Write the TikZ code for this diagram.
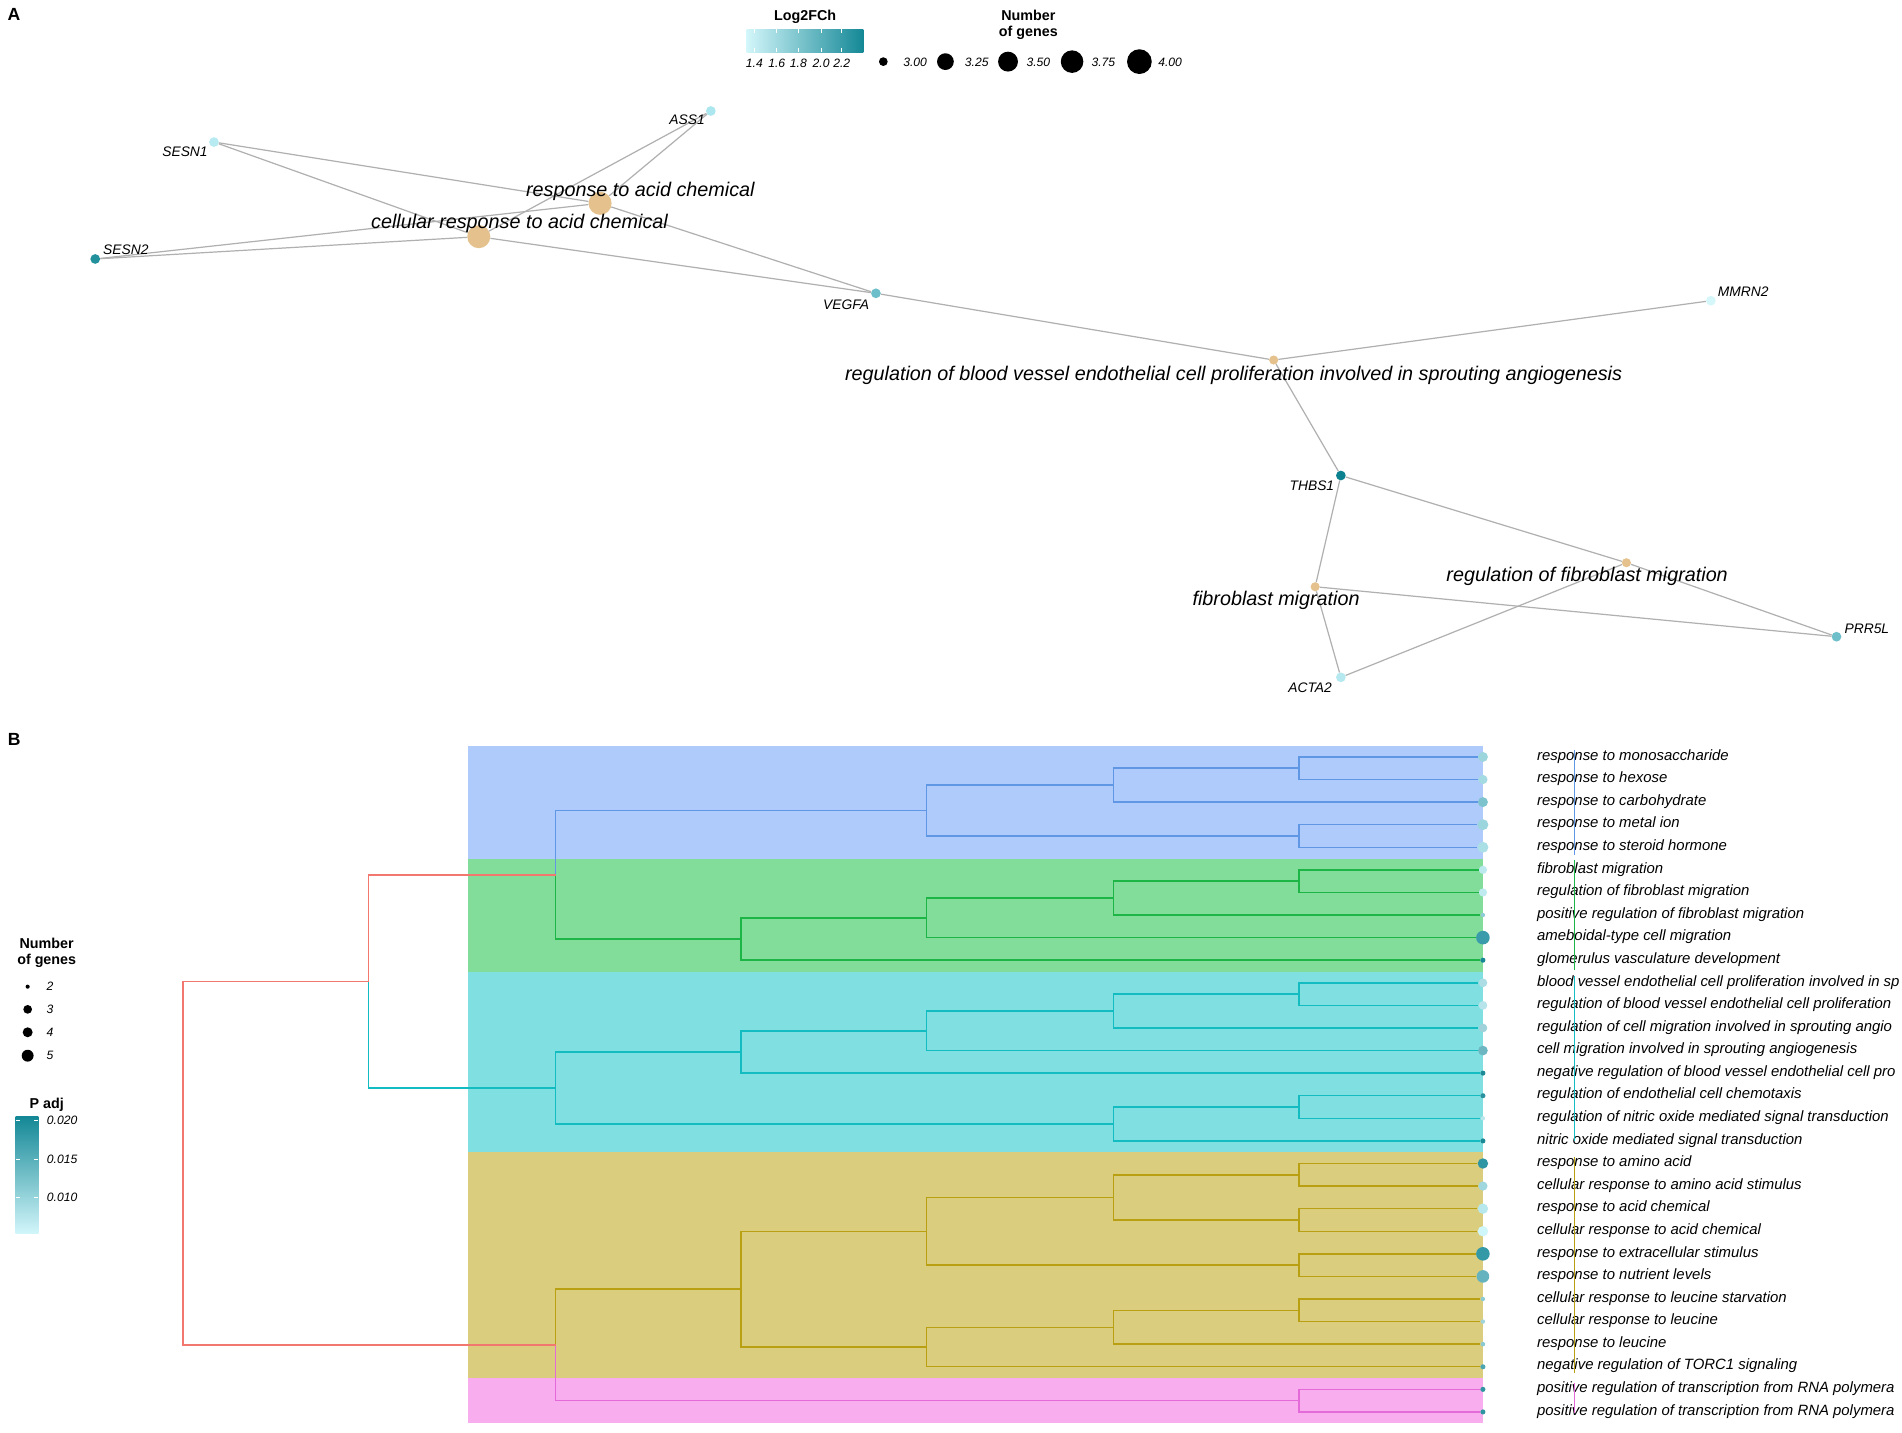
\documentclass[tikz,border=0pt]{standalone}
\usepackage{fontspec}
\setmainfont{Liberation Sans}
\definecolor{edgegray}{HTML}{B0B0B0}
\definecolor{tanc}{HTML}{E5C28D}
\definecolor{gSESNone}{HTML}{B8EBF1}
\definecolor{gASS}{HTML}{ACE6EE}
\definecolor{gSESNtwo}{HTML}{23919C}
\definecolor{gVEGFA}{HTML}{6CBFCA}
\definecolor{gMMRN}{HTML}{D6F7FA}
\definecolor{gTHBS}{HTML}{0C8290}
\definecolor{gACTA}{HTML}{B5E9EF}
\definecolor{gPRR}{HTML}{6EBFCA}
\definecolor{barlight}{HTML}{D2F6FA}
\definecolor{bardark}{HTML}{148896}
\definecolor{fblue}{HTML}{AFCBFC}
\definecolor{fgreen}{HTML}{82DC9A}
\definecolor{fcyan}{HTML}{80E0E1}
\definecolor{folive}{HTML}{DBCD7E}
\definecolor{fpink}{HTML}{F8AEEE}
\definecolor{lblue}{HTML}{5F97E5}
\definecolor{lgreen}{HTML}{1DB545}
\definecolor{lcyan}{HTML}{12BCC0}
\definecolor{lolive}{HTML}{B8A012}
\definecolor{lpink}{HTML}{E46ADA}
\definecolor{lred}{HTML}{F2776E}
\begin{document}
\begin{tikzpicture}[x=1pt,y=-1pt,
  edge/.style={draw=edgegray, line width=1pt},
  gdot/.style={circle, inner sep=0pt, minimum size=8pt},
  tdot/.style={circle, inner sep=0pt, fill=tanc},
  genelab/.style={inner sep=0pt, font=\fontsize{11.4}{13}\selectfont\itshape},
  termlab/.style={inner sep=0pt, font=\fontsize{16.3}{18}\selectfont\itshape},
  leaflab/.style={inner sep=0pt, anchor=mid west, font=\fontsize{12.3}{14}\selectfont\itshape},
  legtitle/.style={inner sep=0pt, align=center, font=\fontsize{11.8}{13}\selectfont\bfseries},
  leglab/.style={inner sep=0pt, font=\fontsize{10}{12}\selectfont\itshape},
  panel/.style={inner sep=0pt, font=\fontsize{14.5}{16}\selectfont\bfseries},
  bdot/.style={circle, inner sep=0pt, fill=black},
  dl/.style={line width=1.2pt},
  clbar/.style={line width=1.3pt}
]
\useasboundingbox (0,0) rectangle (1568,1181);
\fill[white] (0,0) rectangle (1568,1181);
\begin{scope}
\clip (0,0) rectangle (1568,1181);

% ---------------- Panel A ----------------
\node[panel] (labA) at (11.6,12.1) {A};

% legend Log2FCh
\node[legtitle] (lfcT) at (663.7,13.7) {Log2FCh};
\shade[left color=barlight, right color=bardark] (615.6,24.2) rectangle (711.7,43.1);
\foreach \xx in {621.9,640.3,658.2,676.9,693.9} {
  \draw[white, line width=0.6pt] (\xx,24.2) -- (\xx,27.5);
  \draw[white, line width=0.6pt] (\xx,39.8) -- (\xx,43.1);
}
\node[leglab] (lfc1) at (621.9,52.2) {1.4};
\node[leglab] (lfc2) at (640.3,52.2) {1.6};
\node[leglab] (lfc3) at (658.2,52.2) {1.8};
\node[leglab] (lfc4) at (676.9,52.2) {2.0};
\node[leglab] (lfc5) at (693.9,52.2) {2.2};

% legend Number of genes (A)
\node[legtitle] (ngT) at (847.8,20.2) {Number\\of genes};
\node[bdot, minimum size=7.2pt] (ng1) at (728.2,50.8) {};
\node[bdot, minimum size=13.8pt] (ng2) at (779.4,50.8) {};
\node[bdot, minimum size=16.4pt] (ng3) at (831,50.8) {};
\node[bdot, minimum size=18.6pt] (ng4) at (883.8,50.8) {};
\node[bdot, minimum size=20.4pt] (ng5) at (939.3,50.8) {};
\node[leglab] (ngl1) at (754.4,51) {3.00};
\node[leglab] (ngl2) at (805.2,51) {3.25};
\node[leglab] (ngl3) at (856,51) {3.50};
\node[leglab] (ngl4) at (909.6,51) {3.75};
\node[leglab] (ngl5) at (964.6,51) {4.00};

% network nodes
\node[gdot, fill=gSESNone] (SESN1) at (176.4,117.1) {};
\node[gdot, fill=gASS] (ASS1) at (586,91.5) {};
\node[gdot, fill=gSESNtwo] (SESN2) at (78.5,213.5) {};
\node[gdot, fill=gVEGFA] (VEGFA) at (722.1,241.8) {};
\node[gdot, fill=gMMRN] (MMRN2) at (1410.4,247.9) {};
\node[gdot, fill=gTHBS] (THBS1) at (1105.4,392) {};
\node[gdot, fill=gACTA] (ACTA2) at (1105.4,558.4) {};
\node[gdot, fill=gPRR] (PRR5L) at (1514,524.9) {};
\node[tdot, minimum size=19pt] (RAC) at (494.7,167.6) {};
\node[tdot, minimum size=19pt] (CRAC) at (394.7,195.1) {};
\node[tdot, minimum size=7.5pt] (RBV) at (1050,296.8) {};
\node[tdot, minimum size=7.5pt] (RFM) at (1340.8,463.9) {};
\node[tdot, minimum size=7.5pt] (FM) at (1084.2,483.7) {};

% network edges
\draw[edge] (SESN1) -- (RAC);
\draw[edge] (SESN1) -- (CRAC);
\draw[edge] (SESN2) -- (RAC);
\draw[edge] (SESN2) -- (CRAC);
\draw[edge] (ASS1) -- (RAC);
\draw[edge] (ASS1) -- (CRAC);
\draw[edge] (VEGFA) -- (RAC);
\draw[edge] (VEGFA) -- (CRAC);
\draw[edge] (VEGFA) -- (RBV);
\draw[edge] (MMRN2) -- (RBV);
\draw[edge] (THBS1) -- (RBV);
\draw[edge] (THBS1) -- (RFM);
\draw[edge] (THBS1) -- (FM);
\draw[edge] (ACTA2) -- (FM);
\draw[edge] (ACTA2) -- (RFM);
\draw[edge] (PRR5L) -- (FM);
\draw[edge] (PRR5L) -- (RFM);

% network labels
\node[genelab] (SESN1l) at (152.5,125) {SESN1};
\node[genelab] (ASS1l) at (566.5,99) {ASS1};
\node[genelab] (SESN2l) at (103.7,206) {SESN2};
\node[genelab] (VEGFAl) at (697.5,251.5) {VEGFA};
\node[genelab] (MMRN2l) at (1437,240.5) {MMRN2};
\node[genelab] (THBS1l) at (1081.5,400.7) {THBS1};
\node[genelab] (ACTA2l) at (1080,567) {ACTA2};
\node[genelab] (PRR5Ll) at (1539,518) {PRR5L};
\node[termlab] (RACl) at (527.9,158) {response to acid chemical};
\node[termlab] (CRACl) at (428.3,184.1) {cellular response to acid chemical};
\node[termlab] (RBVl) at (1017,309.2) {regulation of blood vessel endothelial cell proliferation involved in sprouting angiogenesis};
\node[termlab] (RFMl) at (1308.4,474.9) {regulation of fibroblast migration};
\node[termlab] (FMl) at (1052,495.2) {fibroblast migration};

% ---------------- Panel B ----------------
\node[panel] (labB) at (11.7,609.4) {B};

% left legends
\node[legtitle] (ngBT) at (38.5,785.5) {Number\\of genes};
\node[bdot, minimum size=3.4pt] (nb2) at (22.8,813.4) {};
\node[bdot, minimum size=7.2pt] (nb3) at (22.8,832.1) {};
\node[bdot, minimum size=8.2pt] (nb4) at (22.8,851) {};
\node[bdot, minimum size=9.8pt] (nb5) at (22.8,870.3) {};
\node[leglab] (nbl2) at (41.2,813.4) {2};
\node[leglab] (nbl3) at (41.2,832.1) {3};
\node[leglab] (nbl4) at (41.2,851) {4};
\node[leglab] (nbl5) at (41.2,870.3) {5};

\node[legtitle] (paT) at (38.5,911) {P adj};
\shade[top color=bardark, bottom color=barlight] (12.9,920.6) rectangle (31.6,1016.8);
\foreach \yy in {923.3,955.7,987} {
  \draw[white, line width=0.6pt] (12.9,\yy) -- (16.2,\yy);
  \draw[white, line width=0.6pt] (28.3,\yy) -- (31.6,\yy);
}
\node[leglab, anchor=west] (pal1) at (38.5,923.3) {0.020};
\node[leglab, anchor=west] (pal2) at (38.5,955.7) {0.015};
\node[leglab, anchor=west] (pal3) at (38.5,987) {0.010};

% cluster rectangles
\fill[fblue] (386,614.69) rectangle (1222.5,707.79);
\fill[fgreen] (386,707.79) rectangle (1222.5,800.89);
\fill[fcyan] (386,800.89) rectangle (1222.5,949.85);
\fill[folive] (386,949.85) rectangle (1222.5,1136.05);
\fill[fpink] (386,1136.05) rectangle (1222.5,1173.29);

% leaves
\foreach \i/\r/\c in {1/4.1/9DD5DD,2/3.8/A4DAE1,3/4.1/7CC3CD,4/4.5/9BD5DD,5/4.5/ABDFE6,
  6/3.4/BCE9EE,7/3.4/BFEAF0,8/1.8/8FCCD5,9/5.6/3A9CAA,10/2.1/168794,
  11/3.6/ACDDE4,12/3.6/B6E4EA,13/3.6/9FD2DA,14/4.0/6CB7C2,15/2.1/1C8B97,
  16/2.1/2A929F,17/1.8/BBE7EC,18/2.1/1B8A96,19/4.3/2E96A3,20/3.8/A0D6DD,
  21/4.3/B7E8EE,22/4.3/CFF6F9,23/5.6/3399A6,24/5.2/64B3BF,25/1.8/8BCBD5,
  26/1.8/A0D4DC,27/1.9/8ACAD3,28/2.1/4CA6B2,29/2.1/2F95A1,30/2.1/2F95A1} {
  \definecolor{tmpc}{HTML}{\c}
  \node[circle, inner sep=0pt, minimum size=2*\r, fill=tmpc] (l\i) at (1222.5,{624+(\i-1)*18.62}) {};
}

% internal nodes
\coordinate (b12) at (1071,633.31);
\coordinate (b123) at (918,647.28);
\coordinate (b45) at (1071,689.17);
\coordinate (bB) at (764,668.22);
\coordinate (g67) at (1071,726.41);
\coordinate (g678) at (918,740.38);
\coordinate (g6789) at (764,756.67);
\coordinate (gG) at (611,774.12);
\coordinate (n5a) at (458,721.17);
\coordinate (c1112) at (1071,819.51);
\coordinate (c13) at (918,833.48);
\coordinate (c14) at (764,849.77);
\coordinate (c15) at (611,867.22);
\coordinate (c1617) at (1071,912.61);
\coordinate (c18) at (918,926.58);
\coordinate (cC) at (458,896.9);
\coordinate (n6) at (304,809.03);
\coordinate (o1920) at (1071,968.47);
\coordinate (o2122) at (1071,1005.71);
\coordinate (o2) at (918,987.09);
\coordinate (o2324) at (1071,1042.95);
\coordinate (o3) at (764,1015.02);
\coordinate (o2526) at (1071,1080.19);
\coordinate (o27) at (918,1094.16);
\coordinate (o28) at (764,1110.45);
\coordinate (oO) at (611,1062.73);
\coordinate (pk) at (1071,1154.67);
\coordinate (n5b) at (458,1108.7);
\coordinate (root) at (151,958.87);

% dendrogram
\draw[dl, lblue] (b12) |- (l1) (b12) |- (l2) (b123) |- (b12) (b123) |- (l3)
  (b45) |- (l4) (b45) |- (l5) (bB) |- (b123) (bB) |- (b45) (n5a) |- (bB);
\draw[dl, lgreen] (g67) |- (l6) (g67) |- (l7) (g678) |- (g67) (g678) |- (l8)
  (g6789) |- (g678) (g6789) |- (l9) (gG) |- (g6789) (gG) |- (l10) (n5a) |- (gG);
\draw[dl, lcyan] (c1112) |- (l11) (c1112) |- (l12) (c13) |- (c1112) (c13) |- (l13)
  (c14) |- (c13) (c14) |- (l14) (c15) |- (c14) (c15) |- (l15)
  (c1617) |- (l16) (c1617) |- (l17) (c18) |- (c1617) (c18) |- (l18)
  (cC) |- (c15) (cC) |- (c18) (n6) |- (cC);
\draw[dl, lolive] (o1920) |- (l19) (o1920) |- (l20) (o2122) |- (l21) (o2122) |- (l22)
  (o2) |- (o1920) (o2) |- (o2122) (o2324) |- (l23) (o2324) |- (l24)
  (o3) |- (o2) (o3) |- (o2324) (o2526) |- (l25) (o2526) |- (l26)
  (o27) |- (o2526) (o27) |- (l27) (o28) |- (o27) (o28) |- (l28)
  (oO) |- (o3) (oO) |- (o28) (n5b) |- (oO);
\draw[dl, lpink] (pk) |- (l29) (pk) |- (l30) (n5b) |- (pk);
\draw[dl, lred] (n6) |- (n5a) (root) |- (n6) (root) |- (n5b);

% leaf labels
\foreach \i/\t in {1/response to monosaccharide,2/response to hexose,3/response to carbohydrate,
  4/response to metal ion,5/response to steroid hormone,6/fibroblast migration,
  7/regulation of fibroblast migration,8/positive regulation of fibroblast migration,
  9/ameboidal-type cell migration,10/glomerulus vasculature development,
  11/blood vessel endothelial cell proliferation involved in sp,
  12/regulation of blood vessel endothelial cell proliferation,
  13/regulation of cell migration involved in sprouting angio,
  14/cell migration involved in sprouting angiogenesis,
  15/negative regulation of blood vessel endothelial cell pro,
  16/regulation of endothelial cell chemotaxis,
  17/regulation of nitric oxide mediated signal transduction,
  18/nitric oxide mediated signal transduction,19/response to amino acid,
  20/cellular response to amino acid stimulus,21/response to acid chemical,
  22/cellular response to acid chemical,23/response to extracellular stimulus,
  24/response to nutrient levels,25/cellular response to leucine starvation,
  26/cellular response to leucine,27/response to leucine,
  28/negative regulation of TORC1 signaling,
  29/positive regulation of transcription from RNA polymera,
  30/positive regulation of transcription from RNA polymera} {
  \node[leaflab] (t\i) at (1267,{624+(\i-1)*18.62}) {\t};
}

% cluster bars over labels
\draw[clbar, lblue] (1298,618) -- (1298,704.5);
\draw[clbar, lgreen] (1298,709) -- (1298,800);
\draw[clbar, lcyan] (1298,805) -- (1298,940.5);
\draw[clbar, lolive] (1298,954) -- (1298,1132);
\draw[clbar, lpink] (1298,1140) -- (1298,1165);
\end{scope}
\end{tikzpicture}
\end{document}
